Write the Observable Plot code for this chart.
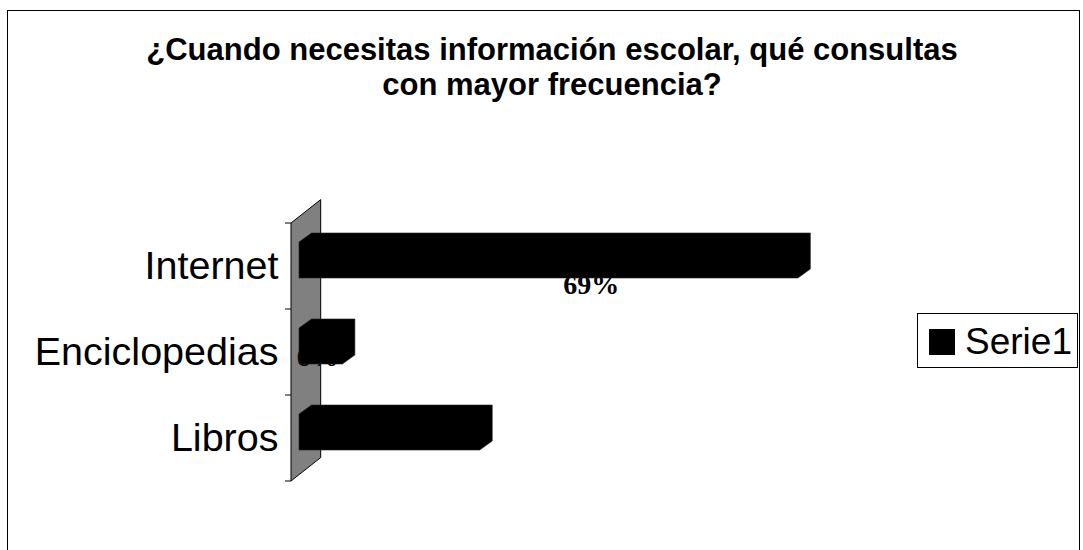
<!DOCTYPE html>
<html><head><meta charset="utf-8">
<script src="https://cdn.jsdelivr.net/npm/d3@7"></script>
<script src="https://cdn.jsdelivr.net/npm/@observablehq/plot@0.6"></script>
<style>
html,body{margin:0;padding:0;background:#fff;overflow:hidden;}
#wrap{position:relative;width:1083px;height:550px;overflow:hidden;font-family:"Liberation Sans",Arial,sans-serif;color:#000;}
#chart{position:absolute;left:0;top:0;}
#frame{position:absolute;left:7px;top:10px;width:1073px;height:600px;border:1px solid #000;box-sizing:border-box;}
#title{position:absolute;left:52px;top:33px;width:1000px;text-align:center;font-weight:bold;font-size:31px;line-height:34.5px;}
#legend{position:absolute;left:917px;top:313px;width:161px;height:55px;border:1px solid #000;box-sizing:border-box;background:#fff;}
#legend .sw{position:absolute;left:11px;top:15px;width:26px;height:26px;background:#000;}
#legend .lb{position:absolute;left:47px;top:7px;font-size:37px;line-height:42px;white-space:nowrap;}
</style>
</head><body>
<div id="wrap">
  <div id="chart"></div>
  <div id="frame"></div>
  <div id="title"></div>
  <div id="legend"><div class="sw"></div><div class="lb"></div></div>
</div>
<script>
const titleLines = ["¿Cuando necesitas información escolar, qué consultas", "con mayor frecuencia?"];
const categories = ["Internet", "Enciclopedias", "Libros"];
const values = [69, 6, 25];
const labels = values.map(v => v + "%");
const seriesName = "Serie1";

const data = categories.map((c, i) => ({cat: c, value: values[i], label: labels[i]}));

document.getElementById("title").innerHTML = titleLines.join("<br>");
document.querySelector("#legend .lb").textContent = seriesName;

const labelFont = {fontFamily: "'Liberation Serif', 'Times New Roman', serif", fontWeight: "bold", fontSize: 28, fill: "#000"};

const chart = Plot.plot({
  width: 1083,
  height: 550,
  marginLeft: 299,
  marginRight: 61,
  marginTop: 222,
  marginBottom: 68,
  x: {domain: [0, 100], axis: null},
  y: {domain: categories, padding: 0, tickSize: 0, tickPadding: 21, label: null},
  style: {background: "transparent", fontFamily: "'Liberation Sans', Arial, sans-serif", fontSize: "39.5px", color: "#000", overflow: "visible"},
  marks: [
    Plot.text(data.filter(d => d.cat === categories[0]), {x: d => d.value * 0.585, y: "cat", text: "label", dy: 19, ...labelFont}),
    Plot.text(data.filter(d => d.cat === categories[1]), {x: d => d.value * 0.42, y: "cat", text: "label", dy: 4.5, ...labelFont}),
    Plot.text(data.filter(d => d.cat === categories[2]), {x: d => d.value * 0.5, y: "cat", text: "label", dy: -4, ...labelFont}),
    Plot.barX(data, {x: "value", y: "cat", fill: "#000", insetTop: 19, insetBottom: 31})
  ]
});
document.getElementById("chart").appendChild(chart);

const svg = d3.select(chart);
const xs = chart.scale("x");
const ys = chart.scale("y");
const x0 = xs.apply(0);
const top0 = ys.apply(categories[0]);
const step = ys.step || ys.bandwidth;
const bottom0 = ys.apply(categories[categories.length - 1]) + ys.bandwidth;

// grey 3D wall on the left
const wallL = x0 - 8, wdx = 29.7, wdy = -23.4;
const wall = svg.insert("g", "g").attr("class", "wall");
wall.append("path")
  .attr("d", `M${wallL},${top0}L${wallL + wdx},${top0 + wdy}L${wallL + wdx},${bottom0 + wdy}L${wallL},${bottom0}Z`)
  .attr("fill", "#808080").attr("stroke", "#000").attr("stroke-width", 1);
for (let i = 0; i <= categories.length; i++) {
  const yy = top0 + i * step;
  wall.append("line").attr("x1", wallL - 6).attr("x2", wallL).attr("y1", yy).attr("y2", yy)
    .attr("stroke", "#000").attr("stroke-width", 1);
}

// flat 3D bars with chamfered ends
const bdx = 12.5, bdy = -9;
svg.selectAll('g[aria-label="bar"] rect').each(function () {
  const r = d3.select(this);
  const bx0 = +r.attr("x"), by0 = +r.attr("y");
  const bx1 = bx0 + +r.attr("width"), by1 = by0 + +r.attr("height");
  d3.select(this.parentNode).append("path")
    .attr("d", `M${bx0},${by0}L${bx0 + bdx},${by0 + bdy}L${bx1 + bdx},${by0 + bdy}L${bx1 + bdx},${by1 + bdy}L${bx1},${by1}L${bx0},${by1}Z`)
    .attr("fill", "#000").attr("stroke", "#222").attr("stroke-width", 0.6);
  r.remove();
});
</script>
</body></html>
